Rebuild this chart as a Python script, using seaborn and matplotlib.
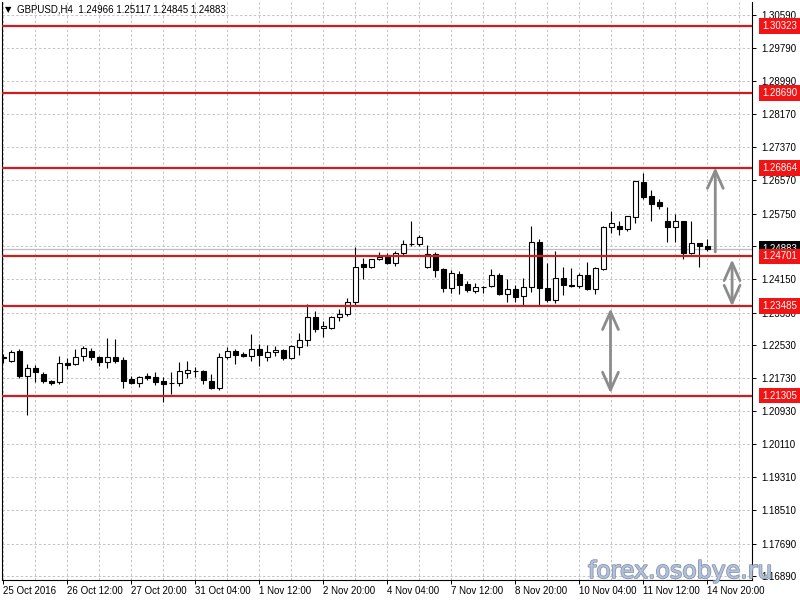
import matplotlib
matplotlib.use("Agg")
import matplotlib.pyplot as plt
import matplotlib.patheffects as pe
import numpy as np
import pandas as pd
import seaborn as sns

# ---------------- data (GBPUSD H4 candles) ----------------
opens = [1.22237, 1.22139, 1.22383, 1.21773, 1.21968, 1.21822, 1.21651, 1.21627, 1.22090, 1.22066,
         1.22261, 1.22383, 1.22237, 1.22115, 1.22237, 1.22163, 1.21700, 1.21602, 1.21773, 1.21749,
         1.21651, 1.21602, 1.21602, 1.21846, 1.21907, 1.21895, 1.21651, 1.21480, 1.22237, 1.22383,
         1.22310, 1.22261, 1.22432, 1.22237, 1.22359, 1.22407, 1.22212, 1.22481, 1.22651, 1.23213,
         1.22944, 1.22944, 1.23213, 1.23286, 1.23579, 1.24506, 1.24433, 1.24628, 1.24677, 1.24530,
         1.24774, 1.24994, 1.24994, 1.24433, 1.24750, 1.24384, 1.23920, 1.24262, 1.24018, 1.23847,
         1.23945, 1.23969, 1.24237, 1.23774, 1.23896, 1.23725, 1.23945, 1.25043, 1.23920, 1.23627,
         1.24164, 1.23993, 1.23969, 1.24237, 1.23896, 1.24384, 1.25409, 1.25433, 1.25360, 1.25653,
         1.26531, 1.26189, 1.26019, 1.25555, 1.25409, 1.25555, 1.24774, 1.25018, 1.24966]
highs = [1.22310, 1.22407, 1.22432, 1.22066, 1.22041, 1.21871, 1.21675, 1.22261, 1.22212, 1.22432,
         1.22505, 1.22456, 1.22261, 1.22700, 1.22676, 1.22237, 1.21773, 1.21773, 1.21846, 1.21871,
         1.21749, 1.21871, 1.22115, 1.22139, 1.21993, 1.21919, 1.21822, 1.22334, 1.22481, 1.22432,
         1.22359, 1.22798, 1.22554, 1.22529, 1.22505, 1.22432, 1.22529, 1.22822, 1.23530, 1.23359,
         1.23115, 1.23237, 1.23408, 1.23676, 1.24921, 1.24652, 1.24640, 1.24799, 1.24774, 1.24823,
         1.25091, 1.25555, 1.25213, 1.24969, 1.24799, 1.24408, 1.24359, 1.24335, 1.24091, 1.24042,
         1.23969, 1.24384, 1.24286, 1.24140, 1.23993, 1.24164, 1.25457, 1.25116, 1.24530, 1.24823,
         1.24433, 1.24408, 1.24286, 1.24555, 1.24433, 1.25457, 1.25823, 1.25579, 1.25677, 1.26555,
         1.26751, 1.26336, 1.26116, 1.25921, 1.25750, 1.25579, 1.25555, 1.25030, 1.25117]
lows = [1.22090, 1.22115, 1.21724, 1.20821, 1.21627, 1.21602, 1.21553, 1.21578, 1.21944, 1.22041,
        1.22139, 1.22163, 1.22017, 1.21968, 1.22090, 1.21480, 1.21578, 1.21505, 1.21675, 1.21553,
        1.21139, 1.21334, 1.21529, 1.21724, 1.21749, 1.21578, 1.21456, 1.21431, 1.22188, 1.22066,
        1.22237, 1.22139, 1.22017, 1.22139, 1.22261, 1.22163, 1.22188, 1.22285, 1.22505, 1.22847,
        1.22725, 1.22920, 1.23115, 1.23237, 1.23505, 1.24140, 1.24408, 1.24603, 1.24506, 1.24457,
        1.24725, 1.24945, 1.24945, 1.24408, 1.24189, 1.23823, 1.23798, 1.23774, 1.23823, 1.23798,
        1.23798, 1.23945, 1.23749, 1.23579, 1.23579, 1.23505, 1.23823, 1.23505, 1.23579, 1.23554,
        1.23749, 1.23945, 1.23920, 1.23871, 1.23774, 1.24359, 1.25262, 1.25213, 1.25311, 1.25506,
        1.26116, 1.25555, 1.25872, 1.25043, 1.25043, 1.24628, 1.24750, 1.24433, 1.24845]
closes = [1.22212, 1.22359, 1.21773, 1.21968, 1.21871, 1.21651, 1.21602, 1.22090, 1.22041, 1.22237,
          1.22456, 1.22237, 1.22115, 1.22237, 1.22139, 1.21651, 1.21602, 1.21749, 1.21724, 1.21627,
          1.21578, 1.21605, 1.21895, 1.21919, 1.21910, 1.21675, 1.21480, 1.22237, 1.22383, 1.22285,
          1.22261, 1.22432, 1.22285, 1.22359, 1.22407, 1.22212, 1.22505, 1.22651, 1.23213, 1.22920,
          1.22993, 1.23213, 1.23286, 1.23579, 1.24433, 1.24433, 1.24628, 1.24677, 1.24530, 1.24774,
          1.24994, 1.25006, 1.25165, 1.24750, 1.24359, 1.23920, 1.24286, 1.23993, 1.23871, 1.23945,
          1.23950, 1.24237, 1.23774, 1.23896, 1.23701, 1.23945, 1.25043, 1.23920, 1.23627, 1.24164,
          1.23993, 1.23969, 1.24237, 1.23896, 1.24408, 1.25409, 1.25506, 1.25360, 1.25677, 1.26555,
          1.26165, 1.25994, 1.25945, 1.25409, 1.25555, 1.24774, 1.25018, 1.24966, 1.24883]

date_labels = ["25 Oct 2016", "26 Oct 12:00", "27 Oct 20:00", "31 Oct 04:00", "1 Nov 12:00",
               "2 Nov 20:00", "4 Nov 04:00", "7 Nov 12:00", "8 Nov 20:00", "10 Nov 04:00",
               "11 Nov 12:00", "14 Nov 20:00"]
date_label_bars = [0, 8, 16, 24, 32, 40, 48, 56, 64, 72, 80, 88]

price_ticks = [1.30590, 1.29790, 1.28990, 1.28170, 1.27370, 1.26570, 1.25750, 1.24950, 1.24150,
               1.23330, 1.22530, 1.21730, 1.20930, 1.20110, 1.19310, 1.18510, 1.17690, 1.16890]
hidden_tick_labels = [1.24950]   # covered by the bid-price box in the reference

levels = [1.30323, 1.28690, 1.26864, 1.24701, 1.23485, 1.21305]
bid_price = 1.24883

arrow_bar = [89.0, 91.1, 75.9]
arrow_start = [1.24810, 1.23481, 1.21358]
arrow_end = [1.26880, 1.24628, 1.23432]
arrow_kind = ["->", "<->", "<->"]

symbol = "GBPUSD,H4"
watermark = "forex.osobye.ru"

# ---------------- style ----------------
sns.set_theme(style="white")
plt.rcParams["font.family"] = ["Liberation Sans", "DejaVu Sans"]

df = pd.DataFrame({"open": opens, "high": highs, "low": lows, "close": closes})
df["bar"] = np.arange(len(df))
df["bull"] = df["close"] >= df["open"]
df["body_lo"] = df[["open", "close"]].min(axis=1)
df["body_h"] = (df["close"] - df["open"]).abs().clip(lower=0.00002)

fig = plt.figure(figsize=(8, 6), dpi=100)
ax = fig.add_axes([2 / 800, 20 / 600, 750 / 800, 578 / 600])
ax.set_facecolor("white")

# grid
grid_kw = dict(color="#c4c4c4", lw=0.7, dashes=(2.5, 2.2))
for p in price_ticks:
    ax.axhline(p, zorder=1, **grid_kw)
for b in range(0, 96, 4):
    ax.axvline(b, zorder=1, **grid_kw)

# bid line
ax.axhline(bid_price, color="#bdbdbd", lw=0.9, zorder=2)

# candles
ax.vlines(df["bar"], df["low"], df["high"], color="black", lw=0.8, zorder=3)
ax.bar(df["bar"], df["body_h"], bottom=df["body_lo"], width=0.62,
       color=np.where(df["bull"], "white", "black"), edgecolor="black",
       linewidth=0.8, zorder=4)

# support / resistance lines
for lv in levels:
    ax.axhline(lv, color="#d01c1c", lw=1.6, zorder=5)

# arrows
for xb, y0, y1, kind in zip(arrow_bar, arrow_start, arrow_end, arrow_kind):
    ax.annotate("", xy=(xb, y1), xytext=(xb, y0),
                arrowprops=dict(arrowstyle=f"{kind},head_length=0.85,head_width=0.38",
                                color="#8c8c8c", lw=2.0, shrinkA=0, shrinkB=0,
                                mutation_scale=15),
                zorder=6)

ax.set_xlim(-0.16, -0.16 + 750 / 8)
ax.set_ylim(1.16800, 1.30915)

# axes / ticks
ax.yaxis.tick_right()
ax.set_yticks(price_ticks)
ax.set_yticklabels(["" if p in hidden_tick_labels else f"{p:.5f}" for p in price_ticks])
ax.set_xticks(date_label_bars)
ax.set_xticklabels(date_labels)
for t in ax.get_xticklabels():
    t.set_horizontalalignment("left")
ax.tick_params(axis="y", which="both", right=True, left=False, length=3, width=0.7,
               pad=4, labelsize=7, colors="black")
ax.tick_params(axis="x", which="both", bottom=True, length=3, width=0.7, pad=1,
               labelsize=7, colors="black")
ax.grid(False)
for side in ["left", "right", "bottom"]:
    ax.spines[side].set_color("black")
    ax.spines[side].set_linewidth(0.8)
ax.spines["top"].set_visible(False)

# price labels on the axis
ax.annotate(f"{bid_price:.5f}", xy=(1, bid_price), xycoords=("axes fraction", "data"),
            xytext=(10, 0), textcoords="offset pixels", ha="left", va="center",
            color="white", fontsize=7, annotation_clip=False, zorder=10,
            bbox=dict(boxstyle="square,pad=0.3", fc="black", ec="none"))
for lv in levels:
    ax.annotate(f"{lv:.5f}", xy=(1, lv), xycoords=("axes fraction", "data"),
                xytext=(10, 0), textcoords="offset pixels", ha="left", va="center",
                color="white", fontsize=7, annotation_clip=False, zorder=11,
                bbox=dict(boxstyle="square,pad=0.3", fc="#f01414", ec="none"))

# header
header = f"{symbol}  {opens[-1]:.5f} {highs[-1]:.5f} {lows[-1]:.5f} {closes[-1]:.5f}"
fig.text(5 / 800, 1 - 10 / 600, "\u25bc", fontsize=6, ha="left", va="center",
         family=["DejaVu Sans"], color="black")
fig.text(17 / 800, 1 - 10 / 600, header, fontsize=7, ha="left", va="center", color="black")

# watermark
fig.text(588 / 800, 1 - 571 / 600, watermark, fontsize=17, ha="left", va="center",
         color="#b4c1d6", family=["DejaVu Sans"], zorder=20,
         path_effects=[pe.withStroke(linewidth=1.2, foreground="#8797b3")])

fig.savefig("out.png", dpi=100)
